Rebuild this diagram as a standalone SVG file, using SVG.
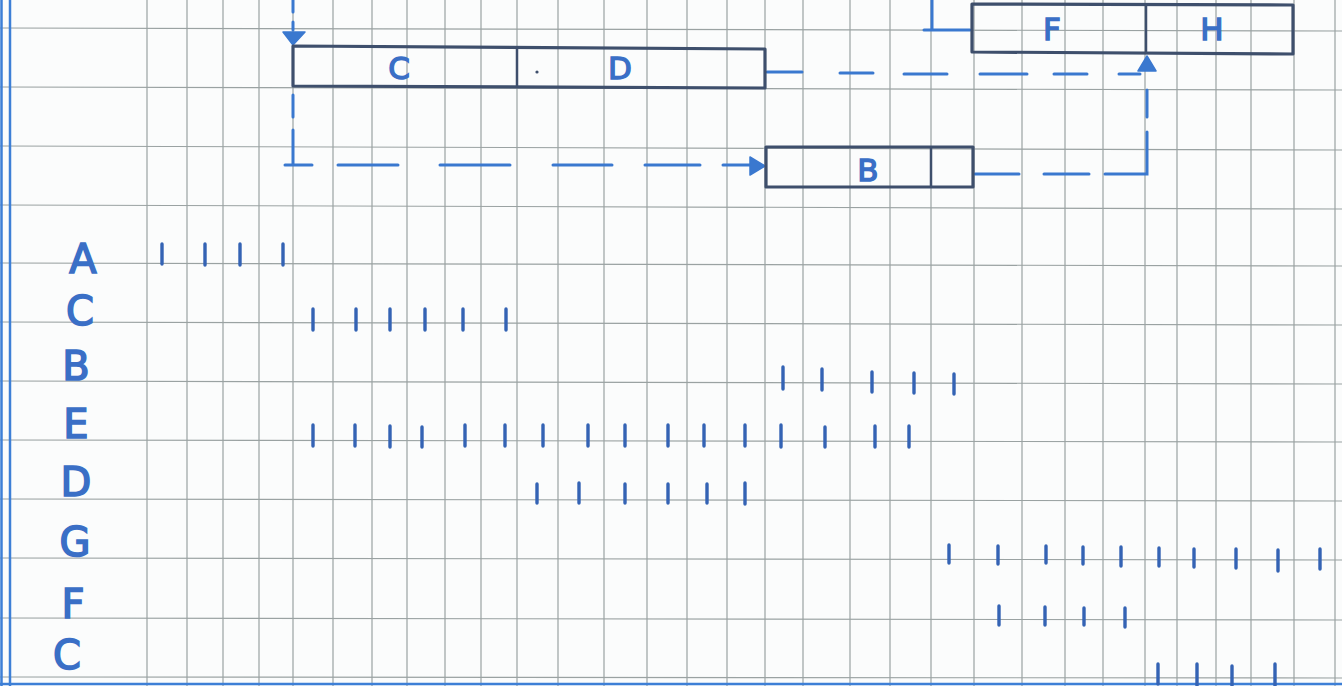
<svg xmlns="http://www.w3.org/2000/svg" width="1342" height="686" viewBox="0 0 1342 686">
<defs>
<style>
.grid line{stroke:#9aa2a2;stroke-width:1.2}
.box{fill:none;stroke:#3e4f6c;stroke-width:3.2;stroke-linejoin:round}
.div{stroke:#3e4f6c;stroke-width:2.5}
.dash{fill:none;stroke:#3a78cf;stroke-width:3;stroke-linecap:round}
.tick{stroke:#3463b4;stroke-width:3.4;stroke-linecap:round}
.lab{font-family:"DejaVu Sans",sans-serif;font-size:40px;fill:#3a6fc6;stroke:#3a6fc6;stroke-width:1.6;text-anchor:middle}
.blab{font-family:"DejaVu Sans",sans-serif;font-size:31px;fill:#3a6fc6;stroke:#3a6fc6;stroke-width:1.4;text-anchor:middle}
.ah{fill:#3a78cf;stroke:#3a78cf;stroke-width:1.5;stroke-linejoin:round}
.margin{stroke:#3d7fd6;stroke-width:2.5}
</style>
</defs>
<rect width="1342" height="686" fill="#fbfcfc"/>
<g class="grid">
<line x1="147" y1="0" x2="147" y2="686"/><line x1="187" y1="0" x2="187" y2="686"/><line x1="223" y1="0" x2="223" y2="686"/><line x1="259" y1="0" x2="259" y2="686"/><line x1="293" y1="0" x2="293" y2="686"/><line x1="333" y1="0" x2="333" y2="686"/><line x1="372" y1="0" x2="372" y2="686"/><line x1="407" y1="0" x2="407" y2="686"/><line x1="445" y1="0" x2="445" y2="686"/><line x1="481" y1="0" x2="481" y2="686"/><line x1="517" y1="0" x2="517" y2="686"/><line x1="558" y1="0" x2="558" y2="686"/><line x1="604" y1="0" x2="604" y2="686"/><line x1="647" y1="0" x2="647" y2="686"/><line x1="687" y1="0" x2="687" y2="686"/><line x1="727" y1="0" x2="727" y2="686"/><line x1="765" y1="0" x2="765" y2="686"/><line x1="803" y1="0" x2="803" y2="686"/><line x1="850" y1="0" x2="850" y2="686"/><line x1="890" y1="0" x2="890" y2="686"/><line x1="931" y1="0" x2="931" y2="686"/><line x1="974" y1="0" x2="974" y2="686"/><line x1="1022" y1="0" x2="1022" y2="686"/><line x1="1065" y1="0" x2="1065" y2="686"/><line x1="1103" y1="0" x2="1103" y2="686"/><line x1="1145" y1="0" x2="1145" y2="686"/><line x1="1177" y1="0" x2="1177" y2="686"/><line x1="1216" y1="0" x2="1216" y2="686"/><line x1="1251" y1="0" x2="1251" y2="686"/><line x1="1294" y1="0" x2="1294" y2="686"/><line x1="1335" y1="0" x2="1335" y2="686"/>
<line x1="0" y1="28" x2="1342" y2="31"/><line x1="0" y1="87" x2="1342" y2="90"/><line x1="0" y1="146" x2="1342" y2="150"/><line x1="0" y1="205" x2="1342" y2="209"/><line x1="0" y1="263" x2="1342" y2="266"/><line x1="0" y1="322" x2="1342" y2="325"/><line x1="0" y1="381" x2="1342" y2="384"/><line x1="0" y1="440" x2="1342" y2="442"/><line x1="0" y1="499" x2="1342" y2="501"/><line x1="0" y1="558" x2="1342" y2="560"/><line x1="0" y1="618" x2="1342" y2="620"/><line x1="0" y1="677" x2="1342" y2="678"/>
</g>
<g id="margin">
<line class="margin" x1="1.5" y1="0" x2="1.5" y2="686"/>
<line class="margin" x1="10" y1="0" x2="10" y2="686"/>
<line class="margin" x1="0" y1="684" x2="1342" y2="684"/>
</g>
<g id="connectors">
<path class="dash" d="M293,0 V12 M293,22 V30"/>
<path class="ah" d="M283,32 L305,32 L293,45 Z"/>
<path class="dash" d="M293,95 V117 M293,130 V165 M285,165 H312 M338,165 H398 M440,165 H510 M553,165 H612 M645,165 H700 M723,165 H752"/>
<path class="ah" d="M750,157 L765,166 L750,175 Z"/>
<path class="dash" d="M767,72 H802 M840,73 H873 M904,74 H947 M980,74 H1027 M1054,74 H1087 M1119,74 H1140"/>
<path class="dash" d="M975,174 H1019 M1044,174 H1089 M1105,174 H1147 V132 M1147,117 V90"/>
<path class="ah" d="M1138,71 L1156,71 L1147,56 Z"/>
<path class="dash" d="M932,0 V30 M924,30 H970"/>
</g>
<g id="task-CD">
<path class="box" d="M293,46 L765,49 L765,88 L293,86 Z"/>
<line class="div" x1="517" y1="47" x2="517" y2="87"/>
<text class="blab" x="399" y="79">C</text>
<circle cx="537" cy="72" r="1.6" fill="#3e4f6c"/>
<text class="blab" x="620" y="79">D</text>
</g>
<g id="task-B">
<rect class="box" x="766" y="147" width="207" height="40"/>
<line class="div" x1="931" y1="147" x2="931" y2="187"/>
<text class="blab" x="868" y="181">B</text>
</g>
<g id="task-FH">
<path class="box" d="M972,4 L1293,5 L1293,54 L972,52 Z"/>
<line class="div" x1="1146" y1="4" x2="1146" y2="53"/>
<text class="blab" x="1052" y="40">F</text>
<text class="blab" x="1212" y="40">H</text>
</g>
<g id="row-labels">
<text class="lab" x="83" y="273">A</text>
<text class="lab" x="80" y="325">C</text>
<text class="lab" x="76" y="380">B</text>
<text class="lab" x="76" y="438">E</text>
<text class="lab" x="76" y="496">D</text>
<text class="lab" x="75" y="556">G</text>
<text class="lab" x="73" y="618">F</text>
<text class="lab" x="67" y="669">C</text>
</g>
<g id="ticks">
<path class="tick" d="M162,244 V264 M205,244 V265 M240,244 V265 M283,244 V265"/>
<path class="tick" d="M313,309 V330 M356,309 V330 M390,309 V330 M425,309 V330 M463,309 V330 M506,309 V330"/>
<path class="tick" d="M783,367 V389 M822,369 V390 M872,372 V392 M914,373 V393 M954,374 V394"/>
<path class="tick" d="M313,425 V446 M355,425 V446 M390,426 V447 M422,427 V447 M465,425 V446 M505,425 V446 M543,425 V446 M588,425 V446 M625,425 V446 M668,425 V446 M704,425 V446 M745,425 V446 M781,425 V447 M825,427 V447 M875,426 V447 M909,426 V447"/>
<path class="tick" d="M537,484 V503 M579,483 V503 M625,484 V503 M668,484 V503 M707,484 V503 M745,483 V504"/>
<path class="tick" d="M949,545 V563 M998,546 V564 M1046,546 V563 M1083,547 V564 M1121,547 V566 M1159,548 V566 M1194,549 V567 M1236,549 V568 M1278,550 V571 M1320,549 V569"/>
<path class="tick" d="M999,606 V625 M1045,607 V625 M1084,608 V625 M1125,608 V627"/>
<path class="tick" d="M1158,664 V684 M1197,664 V686 M1232,666 V686 M1275,664 V686"/>
</g>
</svg>
